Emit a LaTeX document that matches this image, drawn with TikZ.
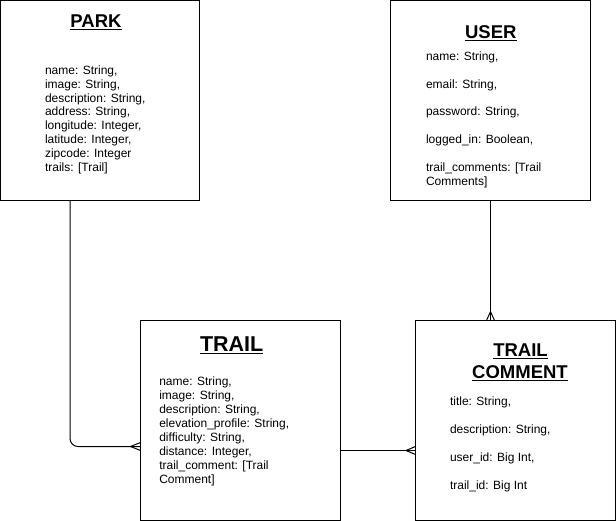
\documentclass[tikz,border=0pt]{standalone}
\usepackage{fontspec}
\setmainfont{Liberation Sans}
\begin{document}
\begin{tikzpicture}[x=1pt,y=-1pt,line width=1pt,
  entity/.style={draw=black,rectangle,inner sep=0pt,outer sep=0pt,anchor=north west,minimum width=200pt,minimum height=200pt},
  ttl/.style={inner sep=0pt,outer sep=0pt,anchor=base,font=\bfseries\fontsize{18.5}{21.7}\selectfont},
  bigttl/.style={ttl,font=\bfseries\fontsize{21.5}{24}\selectfont},
  body/.style={inner sep=0pt,outer sep=0pt,anchor=base west,align=left,font=\fontsize{12}{13.9}\selectfont},
  uline/.style={line width=1.3pt},
  link/.style={draw=black,line width=1pt}]
\useasboundingbox (0,0) rectangle (616,521);
% entity boxes
\node[entity,minimum width=199pt] (park) at (0.5,0.5) {};
\node[entity] (user) at (390.5,0.5) {};
\node[entity] (trail) at (140.5,320.5) {};
\node[entity] (tc) at (415.5,320.5) {};
% titles
\node[ttl] (parkt) at (96,27.3) {PARK};
\node[ttl] (usert) at (490.8,38.3) {USER};
\node[bigttl] (trailt) at (231.7,351.7) {TRAIL};
\node[ttl] (tct1) at (520.5,356.7) {TRAIL};
\node[ttl] (tct2) at (520,378.3) {COMMENT};
\foreach \t in {parkt,usert,trailt,tct1,tct2}{
  \draw[uline] ([yshift=-2pt]\t.base west) -- ([yshift=-2pt]\t.base east);
}
% bodies (anchored at the baseline of the last line)
\node[body] (parkb) at (45,171.6) {name: String,\\ image: String,\\ description: String,\\ address: String,\\ longitude: Integer,\\ latitude: Integer,\\ zipcode: Integer\\ trails: [Trail]};
\node[body] (userb) at (426,185.4) {name: String,\\[13.9pt] email: String,\\[13.9pt] password: String,\\[13.9pt] logged\_in: Boolean,\\[13.9pt] trail\_comments: [Trail\\ Comments]};
\node[body] (trailb) at (159.3,483) {name: String,\\ image: String,\\ description: String,\\ elevation\_profile: String,\\ difficulty: String,\\ distance: Integer,\\ trail\_comment: [Trail\\ Comment]};
\node[body] (tcb) at (450,489.3) {title: String,\\[13.9pt] description: String,\\[13.9pt] user\_id: Big Int,\\[13.9pt] trail\_id: Big Int};
% connectors
\draw[link,rounded corners=8pt] ([xshift=69.5pt]park.south west) |- ([yshift=-26pt]trail.west);
\draw[link] ([yshift=-22pt]trail.west) -- ([xshift=-10pt,yshift=-26pt]trail.west) -- ([yshift=-30pt]trail.west);
\draw[link] ([yshift=-30pt]trail.east) -- ([yshift=-30pt]trail.east -| tc.west);
\draw[link] ([yshift=-26pt]tc.west) -- ([xshift=-9.5pt,yshift=-30pt]tc.west) -- ([yshift=-34pt]tc.west);
\draw[link] (user.south) -- (user.south |- tc.north);
\draw[link] ([xshift=-25pt-4pt]tc.north) -- ([xshift=-25pt,yshift=9pt]tc.north) -- ([xshift=-25pt+4pt]tc.north);
\end{tikzpicture}
\end{document}
